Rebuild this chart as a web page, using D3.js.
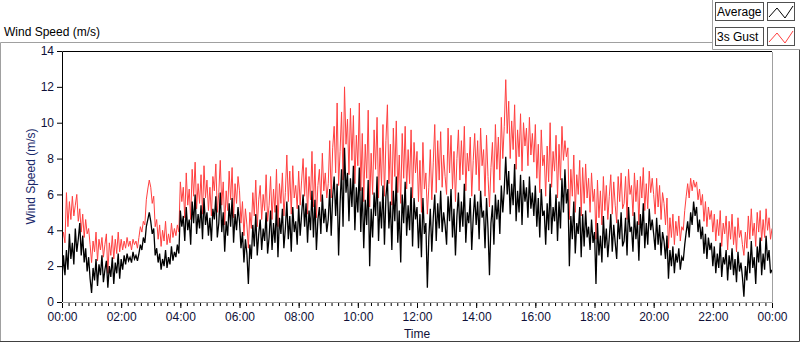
<!DOCTYPE html>
<html>
<head>
<meta charset="utf-8">
<script src="https://cdn.jsdelivr.net/npm/d3@7"></script>
<style>
  body { margin: 0; background: #fff; }
  svg { display: block; font-family: "Liberation Sans", Arial, sans-serif; }
</style>
</head>
<body>
<svg id="chart"></svg>
<script>
// 3 minute samples, 00:00 .. 24:00 (20 per hour)
const avgSpeed = [
  1.2, 2.6, 1.5, 2.9, 1.8, 3.8, 2.4, 3.3, 2.1, 4.1, 2.8, 3.5, 4.4, 2.6, 3.7, 2.2, 3.0, 1.7, 2.5, 1.3,
  0.5, 1.9, 1.2, 2.4, 0.9, 2.1, 1.5, 2.6, 1.1, 1.8, 2.3, 0.8, 2.0, 1.4, 2.5, 1.0, 2.2, 1.6, 2.7, 1.3,
  2.4, 1.8, 2.6, 2.1, 2.7, 2.3, 2.5, 2.2, 2.8, 2.4, 2.6, 2.3, 2.7, 3.2, 2.9, 3.6, 3.3, 4.2, 4.6, 5.0,
  4.5, 3.8, 4.1, 2.6, 3.0, 2.2, 2.7, 1.8, 2.4, 2.0, 2.9, 1.9, 2.5, 2.1, 3.1, 2.3, 2.8, 2.5, 3.2, 2.7,
  5.1, 4.2, 4.8, 3.4, 5.3, 4.0, 4.6, 3.2, 5.6, 4.4, 6.0, 3.8, 4.9, 4.1, 5.4, 3.5, 5.8, 4.3, 5.0, 3.7,
  4.7, 3.4, 5.2, 4.6, 5.9, 3.6, 4.4, 6.1, 3.9, 5.0, 2.8, 4.5, 3.7, 5.5, 4.2, 5.8, 3.3, 4.9, 4.0, 5.3,
  4.5, 3.0, 3.9, 2.2, 3.5, 2.7, 1.0, 3.2, 2.4, 4.3, 3.1, 4.9, 2.6, 3.8, 4.6, 2.9, 4.1, 3.4, 5.0, 2.7,
  3.6, 5.1, 2.9, 4.4, 3.3, 5.4, 2.5, 4.7, 3.8, 5.2, 3.0, 4.1, 5.6, 3.5, 4.8, 2.8, 5.3, 3.9, 4.5, 3.2,
  5.4, 3.7, 4.9, 6.0, 4.2, 5.5, 3.3, 5.1, 4.0, 6.2, 3.6, 5.7, 2.9, 4.6, 5.3, 3.8, 6.0, 4.4, 5.2, 3.9,
  4.6, 6.3, 3.7, 5.9, 7.0, 4.8, 6.6, 2.6, 5.5, 7.4, 4.2, 8.6, 6.1, 7.2, 4.5, 6.9, 5.3, 7.6, 4.0, 6.4,
  5.0, 7.5, 3.9, 6.4, 3.0, 5.7, 4.3, 6.8, 2.0, 5.2, 3.6, 6.1, 4.8, 7.0, 3.4, 5.6, 4.1, 6.5, 3.2, 5.9,
  6.8, 4.1, 5.6, 2.9, 6.2, 4.5, 7.0, 3.3, 5.1, 2.2, 6.0, 4.4, 6.7, 3.7, 5.4, 4.0, 6.4, 3.1, 5.8, 4.6,
  5.3, 3.0, 4.9, 2.5, 5.8, 3.8, 4.4, 0.8, 3.6, 5.2, 2.8, 4.7, 6.0, 3.4, 5.5, 4.1, 6.2, 3.9, 5.0, 4.3,
  3.2, 5.9, 4.5, 6.3, 3.6, 5.2, 2.6, 4.8, 6.1, 3.9, 5.6, 4.2, 6.6, 3.3, 5.0, 4.4, 5.8, 2.9, 4.7, 6.0,
  4.3, 5.6, 3.5, 6.2, 4.7, 5.1, 3.0, 5.8, 4.1, 1.5, 4.4, 5.4, 3.2, 6.0, 4.6, 5.7, 3.8, 6.5, 5.0, 6.3,
  8.1, 6.0, 7.3, 4.9, 6.6, 5.4, 7.7, 4.5, 6.2, 5.0, 7.1, 4.3, 6.8, 5.6, 6.4, 4.7, 7.0, 5.2, 6.1, 4.8,
  6.5, 4.2, 5.8, 3.6, 6.3, 4.8, 5.1, 3.2, 5.5, 4.0, 6.6, 3.8, 5.3, 4.5, 6.0, 3.4, 5.6, 4.1, 6.9, 5.0,
  7.4, 5.5, 6.3, 2.0, 4.8, 3.5, 5.6, 2.7, 4.4, 3.8, 5.3, 2.5, 4.9, 3.1, 5.1, 3.6, 4.2, 2.9, 4.6, 3.3,
  3.9, 1.0, 4.4, 2.6, 3.7, 2.2, 4.8, 3.0, 4.1, 2.5, 3.6, 4.9, 2.8, 4.3, 3.3, 2.4, 4.6, 3.5, 5.0, 3.1,
  3.4, 4.7, 2.6, 5.3, 3.9, 4.2, 2.8, 5.0, 3.5, 4.5, 2.3, 4.9, 3.7, 5.5, 3.0, 4.4, 3.2, 5.2, 4.0, 4.6,
  3.8, 2.9, 4.7, 3.2, 4.3, 2.6, 3.9, 3.4, 2.4, 3.7, 1.3, 2.9, 2.0, 3.1, 1.6, 2.7, 2.2, 3.0, 1.8, 2.5,
  2.3, 3.2, 3.9, 4.5, 3.6, 5.0, 4.3, 5.6, 4.8, 5.3, 3.9, 4.6, 3.5, 4.2, 2.7, 3.8, 2.4, 3.6, 2.9, 3.3,
  2.0, 3.1, 1.6, 2.7, 1.9, 3.3, 1.4, 2.5, 2.1, 2.9, 1.2, 2.6, 1.8, 3.0, 1.5, 2.4, 1.1, 2.8, 1.7, 2.2,
  1.4, 0.3, 2.0, 1.2, 2.8, 1.6, 3.4, 1.9, 2.5, 1.0, 3.1, 2.2, 3.6, 1.5, 2.7, 1.8, 3.7, 2.3, 2.9, 1.6,
  1.8
]

const gustSpeed = [
  3.4, 3.9, 3.3, 6.1, 4.2, 5.6, 4.6, 5.9, 4.8, 5.4, 6.0, 4.5, 5.2, 3.9, 4.9, 3.6, 4.6, 3.8, 4.1, 3.2,
  2.2, 3.4, 2.8, 3.9, 2.3, 3.5, 2.9, 3.6, 2.5, 3.2, 3.8, 1.6, 3.3, 2.6, 3.7, 2.4, 3.5, 2.7, 3.9, 2.8,
  3.5, 2.9, 3.4, 3.0, 3.6, 3.1, 3.4, 2.9, 3.5, 3.2, 3.4, 3.0, 3.6, 4.2, 3.9, 4.5, 4.3, 5.7, 6.3, 6.8,
  6.4, 5.5, 5.9, 4.2, 4.6, 3.5, 4.3, 3.1, 4.0, 3.4, 4.5, 3.2, 3.8, 3.3, 4.4, 3.6, 4.1, 3.7, 4.3, 3.9,
  6.7, 5.6, 6.4, 4.7, 7.2, 5.4, 6.3, 4.6, 7.4, 5.9, 7.8, 5.2, 6.6, 5.5, 7.1, 4.9, 7.6, 5.8, 6.8, 5.1,
  6.4, 4.8, 7.0, 6.2, 7.7, 5.0, 6.1, 7.9, 5.4, 6.7, 4.3, 6.2, 5.1, 7.3, 5.7, 7.5, 4.7, 6.6, 5.5, 7.0,
  6.2, 4.4, 5.6, 3.7, 5.2, 4.3, 3.0, 5.0, 4.1, 6.1, 4.8, 6.8, 4.2, 5.7, 6.5, 4.6, 6.0, 5.1, 7.1, 4.5,
  5.4, 7.0, 4.6, 6.3, 5.0, 7.4, 4.2, 6.6, 5.5, 7.2, 4.8, 6.1, 8.2, 5.6, 7.3, 4.9, 7.6, 5.8, 6.5, 5.2,
  7.3, 5.4, 6.8, 8.0, 5.9, 7.5, 4.9, 7.0, 5.7, 8.4, 5.3, 7.7, 4.7, 6.5, 7.4, 5.6, 8.3, 6.2, 7.2, 5.8,
  6.6, 9.0, 5.8, 8.6, 9.8, 7.2, 11.1, 6.5, 8.4, 10.6, 6.8, 12.0, 8.8, 10.2, 7.1, 10.8, 7.9, 10.4, 6.6, 9.3,
  7.6, 11.1, 6.2, 9.4, 5.6, 8.8, 6.9, 10.7, 5.3, 8.3, 6.0, 9.6, 7.4, 10.3, 5.8, 8.6, 6.5, 9.9, 5.9, 9.0,
  11.0, 6.6, 8.8, 5.4, 9.7, 7.0, 10.1, 6.1, 8.2, 5.5, 9.4, 6.9, 9.8, 6.3, 8.5, 6.6, 9.6, 5.8, 8.9, 7.2,
  8.4, 5.6, 7.9, 5.0, 8.9, 6.3, 7.2, 4.9, 6.4, 8.5, 5.7, 7.8, 9.9, 6.1, 9.0, 6.8, 9.5, 6.4, 8.2, 7.0,
  6.0, 9.7, 7.2, 9.3, 6.3, 8.4, 5.6, 8.0, 9.6, 6.8, 9.0, 7.1, 9.8, 6.2, 8.3, 7.3, 9.2, 5.9, 7.9, 9.4,
  7.1, 9.0, 6.2, 9.7, 7.6, 8.5, 5.9, 9.3, 7.0, 5.3, 7.5, 8.9, 6.1, 9.9, 7.4, 9.2, 6.8, 10.3, 8.0, 9.8,
  12.4, 9.4, 11.2, 8.0, 10.1, 8.5, 11.0, 7.4, 9.6, 8.1, 10.5, 7.3, 10.0, 8.7, 9.7, 7.6, 10.3, 8.2, 9.4, 7.8,
  9.9, 6.9, 8.8, 6.1, 9.6, 7.6, 8.2, 5.9, 8.7, 6.7, 10.0, 6.4, 8.4, 7.3, 9.3, 5.8, 8.8, 6.8, 9.8, 7.9,
  9.0, 8.1, 8.6, 4.6, 7.4, 5.9, 8.2, 5.0, 7.1, 6.0, 7.9, 4.8, 7.5, 5.5, 7.7, 5.8, 6.9, 5.0, 7.2, 5.6,
  6.3, 3.5, 6.8, 4.7, 6.2, 4.3, 7.0, 5.1, 6.5, 4.6, 5.9, 7.1, 4.9, 6.7, 5.4, 4.4, 7.0, 5.6, 7.2, 5.2,
  5.5, 7.0, 4.6, 7.4, 6.0, 6.5, 4.8, 7.2, 5.6, 6.8, 4.3, 7.0, 5.8, 7.5, 5.1, 6.6, 5.2, 7.3, 6.1, 6.9,
  6.0, 4.9, 6.9, 5.3, 6.5, 4.6, 6.1, 5.5, 4.3, 5.8, 3.0, 4.7, 3.6, 4.9, 3.2, 4.5, 3.7, 4.8, 3.4, 4.2,
  4.0, 5.1, 5.9, 6.6, 5.8, 6.9, 6.2, 6.8, 6.4, 6.7, 5.7, 6.3, 5.4, 6.0, 4.5, 5.6, 4.2, 5.3, 4.6, 5.1,
  3.9, 4.9, 3.4, 4.6, 3.7, 5.1, 3.1, 4.4, 3.8, 4.8, 2.9, 4.5, 3.5, 4.9, 3.2, 4.2, 2.8, 4.7, 3.6, 4.0,
  3.2, 2.6, 3.9, 3.0, 4.8, 3.5, 5.2, 3.7, 4.4, 3.1, 5.0, 3.9, 5.1, 3.4, 4.6, 3.6, 5.2, 4.0, 4.7, 3.5,
  4.1
]

const xTicks = [0, 120, 240, 360, 480, 600, 720, 840, 960, 1080, 1200, 1320, 1440]
const xTickLabels = ['00:00', '02:00', '04:00', '06:00', '08:00', '10:00', '12:00',
                     '14:00', '16:00', '18:00', '20:00', '22:00', '00:00']
const yTicks = [0, 2, 4, 6, 8, 10, 12, 14]
const legendNames = ['Average', '3s Gust']
const legendColors = ['#000000', '#ff4040']

const width = 800
const height = 342
const plot = { left: 62, right: 772, top: 51, bottom: 302 }

const svg = d3.select('#chart')
              .attr('width', width)
              .attr('height', height)

const xScale = d3.scaleLinear()
                 .domain([0, 1440])
                 .range([plot.left, plot.right])
const yScale = d3.scaleLinear()
                 .domain([0, 14])
                 .range([plot.bottom, plot.top])

// outer frame
svg.append('path')
   .attr('d', `M0.5,341 V42.5 H712`)
   .attr('fill', 'none')
   .attr('stroke', '#a0a0a0')
svg.append('path')
   .attr('d', `M0,341.5 H799.5 V49`)
   .attr('fill', 'none')
   .attr('stroke', '#404040')

svg.append('text')
   .text('Wind Speed (m/s)')
   .attr('x', 4)
   .attr('y', 36)
   .style('font-size', '12px')
   .attr('fill', '#000')

// plot area
svg.append('rect')
   .attr('x', plot.left)
   .attr('y', plot.top)
   .attr('width', plot.right - plot.left)
   .attr('height', plot.bottom - plot.top)
   .attr('fill', '#fff')

// samples are evenly spaced over the day
const toPoints = arr => arr.map((v, i) => [i * 1440 / (arr.length - 1), v])
const line = d3.line()
               .x(d => xScale(d[0]))
               .y(d => yScale(d[1]))

const clip = svg.append('clipPath').attr('id', 'clip')
clip.append('rect')
    .attr('x', plot.left)
    .attr('y', plot.top)
    .attr('width', plot.right - plot.left)
    .attr('height', plot.bottom - plot.top)

const plotG = svg.append('g').attr('clip-path', 'url(#clip)')
plotG.append('path')
     .attr('d', line(toPoints(gustSpeed)))
     .attr('fill', 'none')
     .attr('stroke', legendColors[1])
     .attr('stroke-width', 1)
plotG.append('path')
     .attr('d', line(toPoints(avgSpeed)))
     .attr('fill', 'none')
     .attr('stroke', legendColors[0])
     .attr('stroke-width', 1.3)

// plot border: black top/left, gray right/bottom
svg.append('path')
   .attr('d', `M${plot.left + 0.5},${plot.bottom} V${plot.top + 0.5} H${plot.right}`)
   .attr('fill', 'none')
   .attr('stroke', '#000')
svg.append('path')
   .attr('d', `M${plot.left + 1},${plot.bottom + 0.5} H${plot.right + 0.5} V${plot.top + 1}`)
   .attr('fill', 'none')
   .attr('stroke', '#a0a0a0')

// y axis
const yAxis = d3.axisLeft(yScale)
                .tickValues(yTicks)
                .tickSize(5)
                .tickPadding(3)
                .tickFormat(d => d)
const yG = svg.append('g')
              .attr('transform', `translate(${plot.left},0)`)
              .call(yAxis)
yG.select('.domain').remove()
yG.selectAll('text').style('font-size', '12px').attr('fill', '#101038')
yG.selectAll('line').attr('stroke', '#000')

// x axis, minor ticks then major
const minorTicks = d3.range(0, 1441, 120 / 9)
const xMinor = d3.axisBottom(xScale)
                 .tickValues(minorTicks)
                 .tickSize(3)
                 .tickFormat('')
const xMinorG = svg.append('g')
                   .attr('transform', `translate(0,${plot.bottom + 1})`)
                   .call(xMinor)
xMinorG.select('.domain').remove()
xMinorG.selectAll('line').attr('stroke', '#000')

const xAxis = d3.axisBottom(xScale)
                .tickValues(xTicks)
                .tickSize(5)
                .tickPadding(4)
                .tickFormat((d, i) => xTickLabels[i])
const xG = svg.append('g')
              .attr('transform', `translate(0,${plot.bottom + 1})`)
              .call(xAxis)
xG.select('.domain').remove()
xG.selectAll('text').style('font-size', '12px').attr('fill', '#101038')
xG.selectAll('line').attr('stroke', '#000')

svg.append('text')
   .text('Time')
   .attr('x', (plot.left + plot.right) / 2)
   .attr('y', 338)
   .attr('text-anchor', 'middle')
   .style('font-size', '12px')
   .attr('fill', '#101038')

svg.append('text')
   .text('Wind Speed (m/s)')
   .attr('transform', `translate(35,${(plot.top + plot.bottom) / 2})rotate(-90)`)
   .attr('text-anchor', 'middle')
   .style('font-size', '12px')
   .attr('fill', '#18286a')

// legend
const legend = svg.append('g')
legend.append('path')
      .attr('d', 'M712.5,0 V49.5 H800')
      .attr('fill', 'none')
      .attr('stroke', '#a0a0a0')

const zig = [[0, 12], [8, 3], [16, 13], [24, 1]]
legendNames.forEach((name, i) => {
  const y0 = 2 + i * 25
  legend.append('rect')
        .attr('x', 715.5)
        .attr('y', y0 + 0.5)
        .attr('width', 48)
        .attr('height', 18)
        .attr('fill', '#fff')
        .attr('stroke', '#505050')
  legend.append('text')
        .text(name)
        .attr('x', 717)
        .attr('y', y0 + 14)
        .style('font-size', '12px')
        .attr('fill', '#000')
  legend.append('rect')
        .attr('x', 767.5)
        .attr('y', y0 + 0.5)
        .attr('width', 27)
        .attr('height', 18)
        .attr('fill', '#fff')
        .attr('stroke', '#505050')
  legend.append('path')
        .attr('d', d3.line()(zig.map(p => [769 + p[0], y0 + 3 + p[1]])))
        .attr('fill', 'none')
        .attr('stroke', legendColors[i])
        .attr('stroke-width', 1)
})
</script>
</body>
</html>
